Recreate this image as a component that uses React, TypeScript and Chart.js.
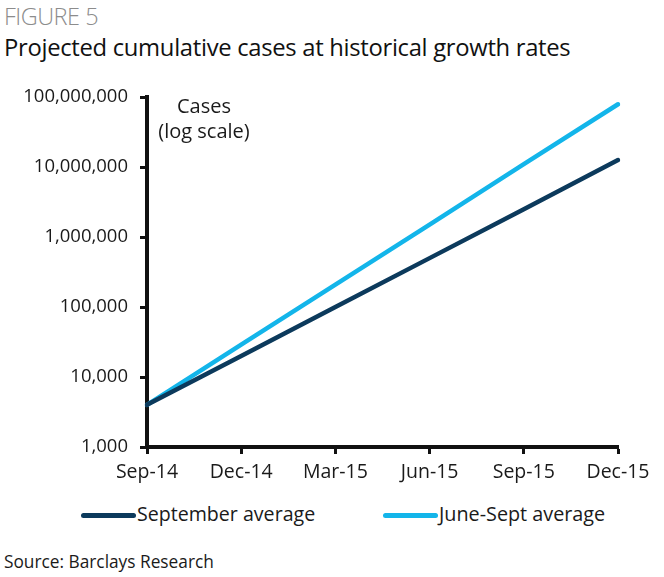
import React, { useEffect, useRef } from "react";
import { Chart, registerables } from "chart.js";

Chart.register(...registerables);

const categories = ["Sep-14", "Dec-14", "Mar-15", "Jun-15", "Sep-15", "Dec-15"];
const septemberAverage = [4000, 20000, 100000, 500000, 2500000, 12600000];
const juneSeptAverage = [4000, 29000, 209000, 1510000, 11000000, 79000000];
const yTickValues = [1000, 10000, 100000, 1000000, 10000000, 100000000];

const DARK = "#0c3a5c";
const LIGHT = "#13b5ea";
const FONT = "'Open Sans', 'Noto Sans', sans-serif";

export default function App() {
  const ref = useRef<HTMLCanvasElement | null>(null);

  useEffect(() => {
    if (!ref.current) return;
    const chart = new Chart(ref.current, {
      type: "line",
      data: {
        labels: categories,
        datasets: [
          {
            label: "September average",
            data: septemberAverage,
            borderColor: DARK,
            backgroundColor: DARK,
            borderWidth: 4.5,
            pointRadius: 0,
            borderCapStyle: "round",
            tension: 0,
          },
          {
            label: "June-Sept average",
            data: juneSeptAverage,
            borderColor: LIGHT,
            backgroundColor: LIGHT,
            borderWidth: 4.5,
            pointRadius: 0,
            borderCapStyle: "round",
            tension: 0,
          },
        ],
      },
      options: {
        responsive: false,
        animation: false,
        maintainAspectRatio: false,
        layout: { padding: { top: 4, right: 46, left: 0, bottom: 0 } },
        plugins: {
          legend: { display: false },
          tooltip: { enabled: false },
          title: { display: false },
        },
        scales: {
          x: {
            type: "category",
            offset: false,
            grid: {
              drawOnChartArea: false,
              drawTicks: true,
              tickLength: 7,
              tickWidth: 3,
              tickColor: "#111",
            },
            border: { display: true, width: 4, color: "#111" },
            ticks: {
              color: "#1a1a1a",
              font: { family: FONT, size: 19.5 },
              padding: 7,
              maxRotation: 0,
              autoSkip: false,
            },
            afterFit: (s: any) => {
              s.height = 43;
            },
          },
          y: {
            type: "logarithmic",
            min: 1000,
            max: 100000000,
            grid: {
              drawOnChartArea: false,
              drawTicks: true,
              tickLength: 7,
              tickWidth: 3,
              tickColor: "#111",
            },
            border: { display: true, width: 4, color: "#111" },
            afterBuildTicks: (s: any) => {
              s.ticks = yTickValues.map((v) => ({ value: v }));
            },
            ticks: {
              color: "#1a1a1a",
              font: { family: FONT, size: 18.5 },
              padding: 12,
              callback: (v: any) => Number(v).toLocaleString("en-US"),
            },
            afterFit: (s: any) => {
              s.width = 147;
            },
          },
        },
      },
    });
    return () => chart.destroy();
  }, []);

  const text: React.CSSProperties = { position: "absolute", fontFamily: FONT, whiteSpace: "nowrap", color: "#1a1a1a" };

  return (
    <div style={{ position: "absolute", left: 0, top: 0, width: 664, height: 577, background: "#fff", overflow: "hidden" }}>
      <div style={{ ...text, left: 4, top: 0, fontSize: 23.5, color: "#8c8c8c", fontWeight: 300, letterSpacing: -0.5 }}>FIGURE 5</div>
      <div style={{ ...text, left: 4, top: 31, fontSize: 23.8, color: "#111", letterSpacing: -0.3 }}>
        Projected cumulative cases at historical growth rates
      </div>
      <canvas ref={ref} width={664} height={416} style={{ position: "absolute", left: 0, top: 74, width: 664, height: 416 }} />
      <div style={{ ...text, left: 144, top: 93, width: 120, textAlign: "center", fontSize: 20, lineHeight: "25px" }}>
        Cases
        <br />
        (log scale)
      </div>
      <div style={{ position: "absolute", left: 81, top: 513, width: 55, height: 5, borderRadius: 3, background: DARK }} />
      <div style={{ ...text, left: 137, top: 500, fontSize: 19.6 }}>September average</div>
      <div style={{ position: "absolute", left: 383, top: 513, width: 55, height: 5, borderRadius: 3, background: LIGHT }} />
      <div style={{ ...text, left: 439, top: 500, fontSize: 19.8 }}>June-Sept average</div>
      <div style={{ ...text, left: 4, top: 550, fontSize: 17.3 }}>Source: Barclays Research</div>
    </div>
  );
}
